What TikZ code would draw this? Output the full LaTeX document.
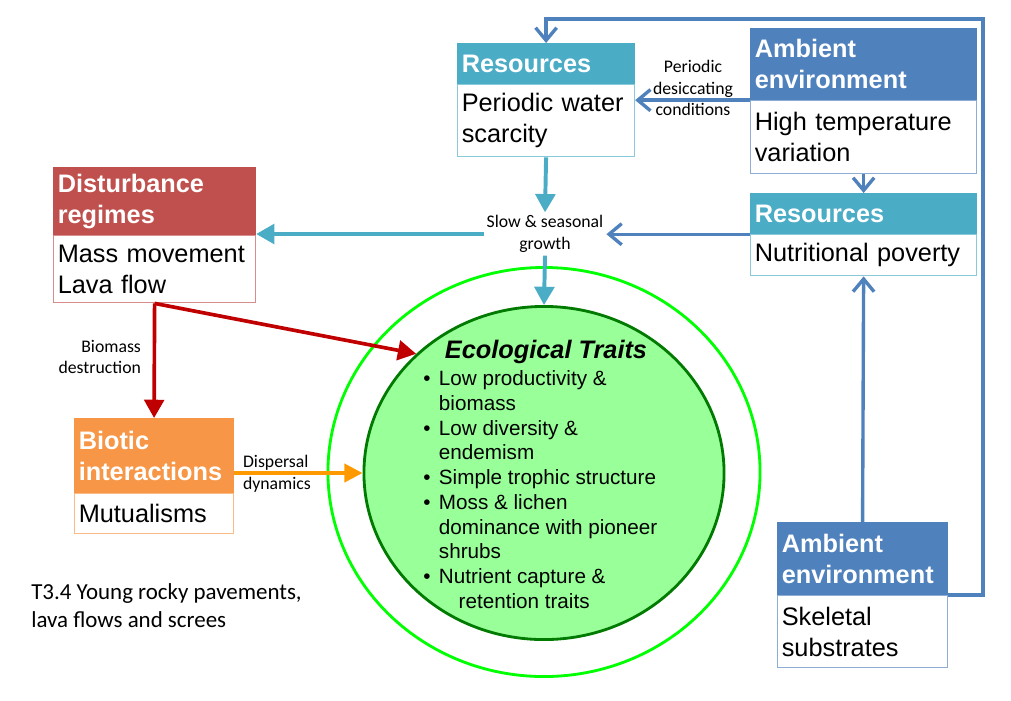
\documentclass[tikz,border=0pt]{standalone}
\usepackage{fontspec}
\setmainfont{Liberation Sans}
\newfontfamily\labfont{Carlito}
\usepackage{tikz}
\usetikzlibrary{arrows.meta,positioning,shapes.geometric}
\definecolor{resc}{HTML}{4BACC6}
\definecolor{ambc}{HTML}{4F81BD}
\definecolor{distc}{HTML}{C0504D}
\definecolor{bioc}{HTML}{F79646}
\definecolor{redar}{HTML}{C00000}
\definecolor{orar}{HTML}{FF9900}
\definecolor{ecolt}{HTML}{99FF99}
\definecolor{ecodk}{HTML}{007A00}
\definecolor{ringgr}{HTML}{00FF00}

\begin{document}
\begin{tikzpicture}[
  x=0.025cm, y=-0.025cm,
  hd/.style={anchor=north west,fill=#1,draw=#1,text=white,align=left,line width=0.8pt,
             inner xsep=3pt,inner ysep=0pt,font=\fontsize{18}{22}\selectfont\bfseries},
  bd/.style={fill=white,draw=#1!65,align=left,line width=0.8pt,
             inner xsep=3pt,inner ysep=0pt,font=\fontsize{18}{22}\selectfont},
  lab/.style={font=\labfont\fontsize{12.6}{15.5}\selectfont,align=center,inner sep=2pt},
  blar/.style={draw=ambc,line width=2.4pt,-{Straight Barb[length=9pt,width=15pt]}},
  tlar/.style={draw=resc,line width=2.8pt,-{Triangle[length=13pt,width=14pt]}},
  rdar/.style={draw=redar,line width=2.6pt,-{Triangle[length=13pt,width=14pt]}},
  orar/.style={draw=orar,line width=2.6pt,-{Triangle[length=13pt,width=13pt]}},
]
\useasboundingbox (0,0) rectangle (1011,700);

% ---- the two rings
\node[ellipse,draw=ringgr,line width=2pt,minimum width=307.3pt,minimum height=290.9pt,
      inner sep=0] (ring) at (544,472) {};
\node[ellipse,draw=ecodk,fill=ecolt,line width=2pt,minimum width=256.1pt,
      minimum height=236.9pt,inner sep=0] (eco) at (544,473) {};
\node[font=\fontsize{18}{22}\selectfont\bfseries\itshape] (ectitle) at (546,352) {Ecological Traits};
\node[anchor=north west,inner sep=0,font=\fontsize{14.7}{17.6}\selectfont] (traits) at (423,368) {%
  \begin{tabular}{@{}l@{\hspace{6pt}}l@{}}
  \textbullet & Low productivity \&\\
              & biomass\\
  \textbullet & Low diversity \&\\
              & endemism\\
  \textbullet & Simple trophic structure\\
  \textbullet & Moss \& lichen\\
              & dominance with pioneer\\
              & shrubs\\
  \textbullet & Nutrient capture \&\\
              & \hspace{14pt}retention traits
  \end{tabular}};

% ---- top: water and temperature
\node[hd=resc,text width=119.9pt,minimum height=28.5pt] (res1h) at (457,43) {Resources};
\node[bd=resc,text width=119.9pt,minimum height=51.2pt,below=0pt of res1h] (res1b)
     {Periodic water\\scarcity};
\node[hd=ambc,text width=154.8pt,minimum height=50.5pt] (amb1h) at (750,28) {Ambient\\environment};
\node[bd=ambc,text width=154.8pt,minimum height=51.9pt,below=0pt of amb1h] (amb1b)
     {High temperature\\variation};
\node[hd=resc,text width=154.8pt,minimum height=28.5pt] (res2h) at (750,193) {Resources};
\node[bd=resc,text width=154.8pt,minimum height=29.2pt,below=0pt of res2h] (res2b)
     {Nutritional poverty};
\node[lab] (desc) at (693,88) {Periodic\\desiccating\\conditions};
\node[lab] (growth) at (545,234) {Slow \& seasonal\\growth};

% ---- left: disturbance and biota
\node[hd=distc,text width=137.7pt,minimum height=47.7pt] (disth) at (53,167) {Disturbance\\regimes};
\node[bd=distc,text width=137.7pt,minimum height=47.7pt,below=0pt of disth] (distb)
     {Mass movement\\Lava flow};
\node[hd=bioc,text width=107.1pt,minimum height=52.6pt] (biotich) at (74,418) {Biotic\\interactions};
\node[bd=bioc,text width=107.1pt,minimum height=28.5pt,below=0pt of biotich] (bioticb)
     {Mutualisms};
\node[lab,align=right,anchor=east] (biom) at (144,357) {Biomass\\destruction};
\node[lab,align=left,anchor=west] (disp) at (240,474) {Dispersal\\dynamics};

% ---- bottom right
\node[hd=ambc,text width=114.9pt,minimum height=51.2pt] (amb2h) at (777,522) {Ambient\\environment};
\node[bd=ambc,text width=114.9pt,minimum height=51.2pt,below=0pt of amb2h] (amb2b)
     {Skeletal\\substrates};

\node[anchor=west,align=left,inner sep=0,font=\labfont\fontsize{16.3}{20}\selectfont] (capt)
     at (31,606) {T3.4 Young rocky pavements,\\lava flows and screes};

% ---- connectors
\coordinate (loop) at (983,19);
\draw[blar] (amb2h.south east) -| (loop) -| (res1h.north);
\draw[blar] (amb1h.south west) -- (amb1h.south west -| res1b.east);
\draw[blar] (amb1b.south) -- (res2h.north);
\draw[blar] (amb2h.north) -- (res2b.south);
\draw[blar] (res2h.south west) -- (res2h.south west -| growth.east);
\draw[tlar] (res1b.south) -- (growth.north);
\draw[tlar] (growth.west) -- (growth.west -| distb.east);
\draw[tlar] (growth.south) -- (eco.north);
\draw[rdar] (distb.south) -- (biotich.north);
\draw[rdar] (distb.south) -- (eco.137);
\draw[orar] (biotich.east |- eco.west) -- (eco.west);
\end{tikzpicture}
\end{document}
